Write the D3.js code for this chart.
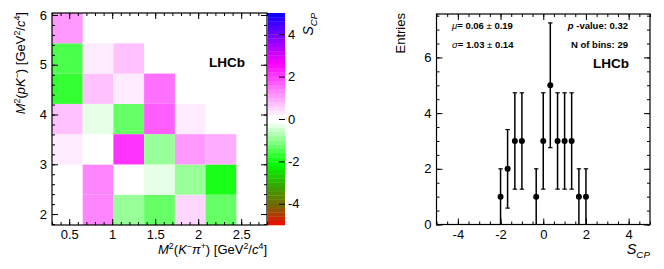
<!DOCTYPE html>
<html>
<head>
<meta charset="utf-8">
<script src="https://cdn.jsdelivr.net/npm/d3@7"></script>
<style>
  body { margin: 0; background: #fff; }
  svg text { font-family: "Liberation Sans", Arial, Helvetica, sans-serif; fill: #000; }
</style>
</head>
<body>
<svg id="chart" width="664" height="269"></svg>
<script>
// Dalitz plot binning (bin edges)
var xEdges = [0.3, 0.657, 1.014, 1.371, 1.729, 2.086, 2.443, 2.8];
var yEdges = [1.78, 2.389, 2.997, 3.606, 4.214, 4.823, 5.431, 6.04];

// S_CP per bin, row 0 = lowest M2(pK), null = empty bin
var scpRow0 = [null, 1.38, -0.9, -1.25, 0.4, -1.35, null];
var scpRow1 = [null, 1.3, 0.03, -0.22, -0.9, -1.95, null];
var scpRow2 = [0.3, 0.02, 2.0, -0.95, 1.05, 0.95, null];
var scpRow3 = [0.7, -0.3, -1.3, 1.65, 0.3, null, null];
var scpRow4 = [-1.65, 0.62, 0.3, 1.4, null, null, null];
var scpRow5 = [-1.6, 0.3, 0.75, null, null, null, null];
var scpRow6 = [1.0, null, null, null, null, null, null];
var scpRows = [scpRow0, scpRow1, scpRow2, scpRow3, scpRow4, scpRow5, scpRow6];

// palette
var palStops = [-5, -4, -3, -2, 0, 2.5, 5];
var palColors = ["#ff0000", "#786400", "#32aa00", "#00ff00", "#ffffff", "#ff00ff", "#0000ff"];
var nContours = 50;

// S_CP distribution
var histX = [-2.0, -1.67, -1.33, -1.0, -0.33, 0.0, 0.33, 0.67, 1.0, 1.33, 1.67, 2.0];
var histN = [1, 2, 3, 3, 1, 3, 5, 3, 3, 3, 1, 1];
var histErr = [1.0, 1.41, 1.73, 1.73, 1.0, 1.73, 2.24, 1.73, 1.73, 1.73, 1.0, 1.0];

var leftXTicks = [0.5, 1, 1.5, 2, 2.5];
var leftYTicks = [2, 3, 4, 5, 6];
var cbTicks = [-4, -2, 0, 2, 4];
var rightXTicks = [-4, -2, 0, 2, 4];
var rightYTicks = [0, 2, 4, 6];

var svg = d3.select("#chart");
svg.append("rect").attr("width", 664).attr("height", 269).attr("fill", "#fff");

var fs = 13;

// little helper for super/subscripts
function rich(sel, parts, size) {
  var cur = 0;
  parts.forEach(function (p) {
    var shift = p.sup ? -0.35 * size : (p.sub ? 0.28 * size : 0);
    var ts = sel.append("tspan").text(p.t).attr("dy", shift - cur);
    if (p.sup || p.sub) ts.attr("font-size", size * 0.68);
    if (p.i) ts.attr("font-style", "italic");
    if (p.b) ts.attr("font-weight", "bold");
    cur = shift;
  });
}

function tickAxes(g, x, y, xMaj, xMin, yMaj, yMin, box) {
  var maj = 6, mnr = 3;
  g.append("g").attr("transform", "translate(0," + box.y1 + ")")
    .call(d3.axisBottom(x).tickValues(xMin).tickSize(-mnr).tickFormat(""));
  g.append("g").attr("transform", "translate(0," + box.y1 + ")")
    .call(d3.axisBottom(x).tickValues(xMaj).tickSize(-maj).tickPadding(4.8).tickFormat(function (d) { return String(d); }));
  g.append("g").attr("transform", "translate(0," + box.y0 + ")")
    .call(d3.axisTop(x).tickValues(xMin).tickSize(-mnr).tickFormat(""));
  g.append("g").attr("transform", "translate(0," + box.y0 + ")")
    .call(d3.axisTop(x).tickValues(xMaj).tickSize(-maj).tickFormat(""));
  g.append("g").attr("transform", "translate(" + box.x0 + ",0)")
    .call(d3.axisLeft(y).tickValues(yMin).tickSize(-mnr).tickFormat(""));
  g.append("g").attr("transform", "translate(" + box.x0 + ",0)")
    .call(d3.axisLeft(y).tickValues(yMaj).tickSize(-maj).tickPadding(5).tickFormat(function (d) { return String(d); }));
  g.append("g").attr("transform", "translate(" + box.x1 + ",0)")
    .call(d3.axisRight(y).tickValues(yMin).tickSize(-mnr).tickFormat(""));
  g.append("g").attr("transform", "translate(" + box.x1 + ",0)")
    .call(d3.axisRight(y).tickValues(yMaj).tickSize(-maj).tickFormat(""));
  g.selectAll(".domain").remove();
  g.selectAll(".tick line").attr("stroke", "#000").attr("stroke-width", 1);
  g.selectAll(".tick text").attr("font-size", fs).attr("font-family", null);
  g.append("rect").attr("x", box.x0).attr("y", box.y0)
    .attr("width", box.x1 - box.x0).attr("height", box.y1 - box.y0)
    .attr("fill", "none").attr("stroke", "#000").attr("stroke-width", 1.2);
}

function range(a, b, s) { return d3.range(a, b + s / 2, s).map(function (v) { return +v.toFixed(3); }); }

// ---------------- left: Dalitz plot ----------------
var L = { x0: 52, x1: 267, y0: 13, y1: 225 };
var lx = d3.scaleLinear().domain([0.3, 2.8]).range([L.x0, L.x1]);
var ly = d3.scaleLinear().domain([1.78, 6.04]).range([L.y1, L.y0]);

var pal = d3.scaleLinear().domain(palStops).range(palColors).interpolate(d3.interpolateRgb).clamp(true);
// colour of the contour band holding v (edge of band nearest zero)
function bandColor(v) {
  var w = 10 / nContours;
  var i = Math.max(0, Math.min(nContours - 1, Math.floor((v + 5) / w)));
  var lo = -5 + i * w, hi = lo + w;
  return pal(lo >= 0 ? lo : hi);
}

var cells = [];
scpRows.forEach(function (row, j) {
  row.forEach(function (v, i) {
    if (v !== null) cells.push({ i: i, j: j, v: v });
  });
});

var gl = svg.append("g");
gl.selectAll("rect.cell").data(cells).enter().append("rect")
  .attr("class", "cell")
  .attr("x", function (d) { return lx(xEdges[d.i]); })
  .attr("y", function (d) { return ly(yEdges[d.j + 1]); })
  .attr("width", function (d) { return lx(xEdges[d.i + 1]) - lx(xEdges[d.i]); })
  .attr("height", function (d) { return ly(yEdges[d.j]) - ly(yEdges[d.j + 1]); })
  .attr("fill", function (d) { return bandColor(d.v); });

tickAxes(gl, lx, ly, leftXTicks, range(0.3, 2.8, 0.1), leftYTicks, range(1.8, 6.0, 0.2), L);

gl.append("text").attr("x", 245).attr("y", 67).attr("text-anchor", "end")
  .attr("font-size", 13.5).attr("font-weight", "bold").text("LHCb");

var lxt = gl.append("text").attr("x", L.x1).attr("y", 254).attr("text-anchor", "end").attr("font-size", fs);
rich(lxt, [{ t: "M", i: 1 }, { t: "2", sup: 1 }, { t: "(" }, { t: "K", i: 1 }, { t: "\u2212", sup: 1 },
  { t: "\u03c0", i: 1 }, { t: "+", sup: 1 }, { t: ") [GeV" }, { t: "2", sup: 1 }, { t: "/" }, { t: "c", i: 1 },
  { t: "4", sup: 1 }, { t: "]" }], fs);

var lyt = gl.append("text").attr("transform", "translate(25,12) rotate(-90)").attr("text-anchor", "end").attr("font-size", fs);
rich(lyt, [{ t: "M", i: 1 }, { t: "2", sup: 1 }, { t: "(" }, { t: "pK", i: 1 }, { t: "\u2212", sup: 1 },
  { t: ") [GeV" }, { t: "2", sup: 1 }, { t: "/" }, { t: "c", i: 1 }, { t: "4", sup: 1 }, { t: "]" }], fs);

// colour bar
var CB = { x0: 268, x1: 285 };
var cby = d3.scaleLinear().domain([-5, 5]).range([L.y1, L.y0]);
var bands = d3.range(nContours).map(function (k) { return -5 + k * 10 / nContours; });
gl.selectAll("rect.band").data(bands).enter().append("rect")
  .attr("class", "band")
  .attr("x", CB.x0).attr("width", CB.x1 - CB.x0)
  .attr("y", function (d) { return cby(d + 10 / nContours); })
  .attr("height", function (d) { return cby(d) - cby(d + 10 / nContours) + 0.3; })
  .attr("fill", function (d) { return bandColor(d + 5 / nContours); });
var cbAxis = gl.append("g").attr("transform", "translate(" + CB.x1 + ",0)")
  .call(d3.axisRight(cby).tickValues(cbTicks).tickSize(-6).tickPadding(3).tickFormat(function (d) { return String(d); }));
cbAxis.select(".domain").remove();
cbAxis.selectAll(".tick line").attr("stroke", "#000");
cbAxis.selectAll(".tick text").attr("font-size", fs).attr("font-family", null);

var cbt = gl.append("text").attr("transform", "translate(313,13) rotate(-90)").attr("text-anchor", "end").attr("font-size", 14);
rich(cbt, [{ t: "S", i: 1 }, { t: "CP", sub: 1, i: 1 }], 14);

// ---------------- right: S_CP distribution ----------------
var R = { x0: 436.5, x1: 650, y0: 14, y1: 224.5 };
var rx = d3.scaleLinear().domain([-5, 5]).range([R.x0, R.x1]);
var ry = d3.scaleLinear().domain([0, 7.56]).range([R.y1, R.y0]);

var gr = svg.append("g");
tickAxes(gr, rx, ry, rightXTicks, range(-5, 5, 0.5), rightYTicks, range(0, 7.5, 0.5), R);

var pts = histX.map(function (x, k) { return { x: x, n: histN[k], e: histErr[k] }; });
var ptG = gr.selectAll("g.pt").data(pts).enter().append("g").attr("class", "pt");
ptG.append("line")
  .attr("x1", function (d) { return rx(d.x); }).attr("x2", function (d) { return rx(d.x); })
  .attr("y1", function (d) { return ry(Math.max(0, d.n - d.e)); })
  .attr("y2", function (d) { return ry(d.n + d.e); })
  .attr("stroke", "#000").attr("stroke-width", 1.5);
ptG.append("line")
  .attr("x1", function (d) { return rx(d.x) - 2.2; }).attr("x2", function (d) { return rx(d.x) + 2.2; })
  .attr("y1", function (d) { return ry(d.n + d.e); }).attr("y2", function (d) { return ry(d.n + d.e); })
  .attr("stroke", "#000").attr("stroke-width", 1.2);
ptG.filter(function (d) { return d.n - d.e > 0.01; }).append("line")
  .attr("x1", function (d) { return rx(d.x) - 2.2; }).attr("x2", function (d) { return rx(d.x) + 2.2; })
  .attr("y1", function (d) { return ry(d.n - d.e); }).attr("y2", function (d) { return ry(d.n - d.e); })
  .attr("stroke", "#000").attr("stroke-width", 1.2);
ptG.append("circle")
  .attr("cx", function (d) { return rx(d.x); }).attr("cy", function (d) { return ry(d.n); })
  .attr("r", 3).attr("fill", "#000");

// stats box text
var sfs = 9.5;
var t1 = gr.append("text").attr("x", 452).attr("y", 28.5).attr("font-size", sfs);
rich(t1, [{ t: "\u03bc", i: 1 }, { t: "= 0.06", b: 1 }, { t: " \u00b1 " }, { t: "0.19", b: 1 }], sfs);
var t2 = gr.append("text").attr("x", 452).attr("y", 47.5).attr("font-size", sfs);
rich(t2, [{ t: "\u03c3", i: 1 }, { t: "= 1.03", b: 1 }, { t: " \u00b1 " }, { t: "0.14", b: 1 }], sfs);
var t3 = gr.append("text").attr("x", 628).attr("y", 28.5).attr("text-anchor", "end").attr("font-size", sfs).attr("font-weight", "bold");
rich(t3, [{ t: "p", i: 1 }, { t: " -value: 0.32" }], sfs);
gr.append("text").attr("x", 628).attr("y", 47.5).attr("text-anchor", "end").attr("font-size", sfs)
  .attr("font-weight", "bold").text("N of bins: 29");
gr.append("text").attr("x", 629).attr("y", 68).attr("text-anchor", "end")
  .attr("font-size", 13.5).attr("font-weight", "bold").text("LHCb");

gr.append("text").attr("transform", "translate(405,13) rotate(-90)").attr("text-anchor", "end")
  .attr("font-size", fs).text("Entries");
var rxt = gr.append("text").attr("x", 650).attr("y", 254).attr("text-anchor", "end").attr("font-size", 14.5);
rich(rxt, [{ t: "S", i: 1 }, { t: "CP", sub: 1, i: 1 }], 14.5);
</script>
</body>
</html>
